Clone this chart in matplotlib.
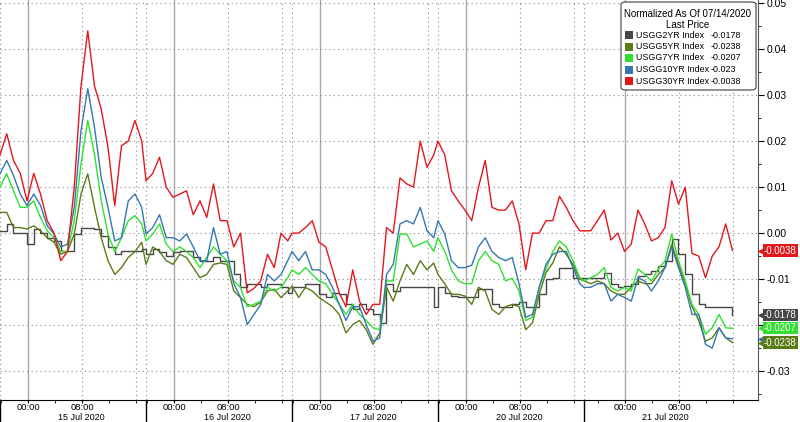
import numpy as np
import matplotlib.pyplot as plt
import matplotlib.transforms as mtransforms
from matplotlib.patches import FancyBboxPatch, Rectangle
from matplotlib.ticker import FixedLocator, MultipleLocator, FuncFormatter

plt.rcParams['font.family'] = ['Liberation Sans', 'DejaVu Sans']

# sessions on the x axis (gaps between sessions are removed)
session_labels = ['15 Jul 2020', '16 Jul 2020', '17 Jul 2020', '20 Jul 2020', '21 Jul 2020']
session_points = [22, 22, 22, 22, 23]          # hourly readings per session
hours_before_midnight = [4.15, 4.15, 4.15, 4.15, 6.07]
SESSION_LEN = 21.63

# yield change, normalized as of 07/14/2020 (in thousandths)
usgg2yr = [0.5, 2, 0, 0, -2.4, 0.9, 0, -1, -1.7, -4, -4, -0.2, 1.2, 1.2, 0.9, -0.6, -3, -4.6, -4, -4, -4, -3.5,
           -4.6, -3.5, -4.2, -5, -4.2, -4, -4, -5.3, -6, -6, -5.3, -6, -6, -9, -11.8, -11, -11, -11.8, -11, -11, -11.8, -13,
           -11.8, -11.8, -11, -11, -13.3, -14, -13, -13.3, -15.5, -16.6, -15.5, -16.6, -17.7, -19.5, -11, -12.6, -11.8, -11.8, -11.8, -11.8, -11.8, -16,
           -11.8, -13, -13.7, -14, -14, -14, -12.2, -12.2, -15.5, -16, -16, -15.5, -15, -16, -16, -13.3, -10, -9.7, -7.5, -7.5, -9.7, -9.7,
           -9.7, -9.7, -9.7, -8.6, -11, -11.8, -11.5, -11, -9.3, -9, -8.3, -7.2, -6, -1.3, -4.6, -9, -13.3, -15.5, -16, -16, -16, -16, -17.8]
usgg5yr = [4.5, 4.5, 1.2, 1.2, 0.9, 1.6, 0.5, -1, -2, -4.6, -4, -0.2, 8.5, 12.9, 5.6, -1, -6, -9, -7.5, -5.3, -4, -2,
           -6.8, -3, -4, -6, -6.8, -4.6, -5.3, -7.5, -9.7, -9, -6.8, -6.5, -6.8, -12.6, -14, -15.5, -16, -15, -12.6, -12.2, -14, -12.6,
           -11.5, -14, -11.8, -12.6, -14, -15, -16, -17.7, -21.7, -19.9, -19, -21, -24.2, -21.7, -11.8, -14.8, -10.4, -6.8, -9, -6, -8, -6.5,
           -9, -11, -13.3, -13.3, -13.7, -15.5, -11.8, -12.6, -16.6, -17.7, -16, -15.5, -16, -21, -19.5, -13.3, -8.6, -6.5, -3, -4.6, -6.8, -10,
           -10.4, -11, -10.4, -11, -12.6, -13.3, -13.3, -11.8, -10.4, -11, -11, -9, -7.5, -2.4, -6.8, -11, -16, -19, -23.5, -22.8, -20.6, -22.8, -23.8]
usgg7yr = [10, 12.9, 9.2, 5.6, 5.6, 7, 3.4, 0.5, -1, -4, -4, 2.7, 15, 24.5, 17.2, 7, -0.2, -4, -1, 2.7, 3.8, 2,
           -1.7, -0.2, 2, -2.4, -4, -3, -4, -5.3, -7.5, -5.3, -3, -4.6, -6, -10.4, -11.8, -16, -15.5, -14.8, -11.8, -12.6, -11.8, -9.7,
           -8, -9, -7.5, -9, -10.4, -11, -13.3, -15.5, -17.7, -15.5, -17.7, -19, -20.6, -21, -10.4, -10.4, -0.2, -0.2, -3, -2.4, -1.7, -4,
           -1, -4, -8, -10.4, -11, -11, -6, -4, -6, -6.8, -10.4, -9.8, -12.6, -19, -18.3, -11.8, -7.8, -4, -1.7, -3, -6, -9.7,
           -10.4, -9.7, -9, -7.5, -11.8, -12.6, -11.8, -12.6, -7.8, -9, -10.4, -7.8, -6, -0.2, -6, -10.4, -15.5, -17.7, -22, -20.6, -17.7, -20.6, -20.7]
usgg10yr = [12.9, 15.8, 12.5, 8.5, 6, 8.5, 6, 1.6, -0.2, -3, -2.4, 5.6, 22.3, 31.4, 23, 12.1, 5.6, -1.7, -1, 7, 8.5, 5.6,
            -0.2, 1.2, 4, -1, -1, -1.7, -0.2, -3, -6, -6, 1.2, -4.6, -4, -11, -14, -19.9, -17.7, -15.5, -9, -10.4, -9, -6,
            -4, -6, -4, -8, -8, -9, -11.8, -15.5, -19, -16, -16, -19.9, -23.5, -22.8, -9, -6.8, 2, 2.7, 2, 5.6, 0.5, -1,
            2.7, -0.2, -6, -7.5, -7.5, -7, -3, -1, -4, -5.3, -6, -5.3, -11, -18.3, -17.7, -11.8, -6.8, -4.6, -4, -4, -7.5, -11,
            -11.8, -11.8, -11, -11, -14.8, -13.3, -14, -14.8, -9.7, -10.4, -12.6, -10.4, -7.5, -3, -7.5, -11.8, -17.7, -17.7, -24.2, -25, -20.6, -22.8, -23]
usgg30yr = [17, 21.6, 15.8, 13, 7, 13, 8.5, 2.7, 0, -6, -4, 10, 32, 44, 32, 27, 18.7, 6, 19, 20, 24.5, 20,
            11.4, 13, 16.5, 10, 7.8, 8.5, 9.2, 4, 7, 3.4, 10.7, 2.7, 2.7, -3, 0, -13, -12, -10.4, -4.6, -7.5, 0, -1.7,
            0, 0, 1.2, 2.7, -2, -3, -8, -13, -16, -8, -14.8, -17.7, -15.5, -15.5, 1.2, 0, 12, 10.7, 10, 20, 14.3, 17,
            20, 17, 9.2, 7, 5, 2.7, 10, 15.8, 5.6, 5, 5, 7, 2, -8, 0, 0, 2.7, 2.7, 8, 5.6, 2.7, 0.5,
            0.5, 0.5, 2.7, 5, -1.5, 0, -4, -2.4, 5, 2, -1.7, -1, 1.2, 11.4, 6.3, 10, -4.4, -5, -9.7, -5, -3, 2, -3.8]

names = ['USGG2YR Index', 'USGG5YR Index', 'USGG7YR Index', 'USGG10YR Index', 'USGG30YR Index']
last_labels = ['-0.0178', '-0.0238', '-0.0207', '-0.023', '-0.0038']
colors = ['#474747', '#5b7b16', '#2fe02f', '#3677b0', '#e3171c']
series = [usgg2yr, usgg5yr, usgg7yr, usgg10yr, usgg30yr]

# x positions: hours since session open, sessions laid side by side
x = np.concatenate([k * SESSION_LEN + np.arange(n) for k, n in enumerate(session_points)])

fig = plt.figure(figsize=(8, 4.22), dpi=100)
ax = fig.add_axes([0, 22 / 422, 758 / 800, 400 / 422])

for vals, c, nm in zip(series, colors, names):
    y = np.array(vals) / 1000
    if nm.startswith('USGG2YR'):
        ax.plot(x, y, color=c, lw=1.0, drawstyle='steps-post', zorder=4)
    else:
        ax.plot(x, y, color=c, lw=1.0, zorder=4)

ax.set_xlim(0, 112.3)
ax.set_ylim(-0.0363, 0.0507)

dotted = (0, (1, 3))
major_x, minor_x = [], []
for k in range(len(session_labels)):
    start = k * SESSION_LEN
    midnight = start + hours_before_midnight[k]
    ax.axvline(start, color='#8a8a8a', lw=0.8, ls=dotted, zorder=1)
    ax.axvline(midnight, color='#a8a8a8', lw=1.0, zorder=1)
    for h in (8, 16):
        ax.axvline(midnight + h, color='#8a8a8a', lw=0.8, ls=dotted, zorder=1)
    major_x += [midnight, midnight + 8]
    minor_x += [midnight - 4, midnight + 4, midnight + 12, midnight + 16]
    # session divider below the axis
    ax.plot([start, start], [0, -0.06], color='black', lw=1.0,
            transform=ax.get_xaxis_transform(), clip_on=False)
    ax.text(start + SESSION_LEN / 2 + 1.2, -22 / 400, session_labels[k], ha='center', va='bottom',
            fontsize=6.5, transform=ax.get_xaxis_transform())

ax.xaxis.set_major_locator(FixedLocator(major_x))
ax.xaxis.set_minor_locator(FixedLocator([v for v in minor_x if 0 < v < 112.3]))
ax.set_xticklabels(['00:00', '08:00'] * len(session_labels))
ax.tick_params(axis='x', which='major', length=2.5, pad=0, labelsize=6.8, color='black')
ax.tick_params(axis='x', which='minor', length=2.5, color='black')


def ytick_fmt(v, pos):
    # the -0.02 label sits behind the price tags
    if abs(v + 0.02) < 1e-9:
        return ''
    return f'{v:.2f}'


ax.yaxis.tick_right()
ax.yaxis.set_major_locator(MultipleLocator(0.01))
ax.yaxis.set_minor_locator(MultipleLocator(0.005))
ax.yaxis.set_major_formatter(FuncFormatter(ytick_fmt))
ax.tick_params(axis='y', which='major', length=4, pad=2, labelsize=7.5, direction='out')
ax.tick_params(axis='y', which='minor', length=2, direction='out')
ax.grid(axis='y', color='#8a8a8a', lw=0.8, ls=dotted, zorder=1)

for side in ('left', 'top'):
    ax.spines[side].set_visible(False)
ax.spines['right'].set_color('#555555')
ax.spines['bottom'].set_color('black')

# price tags on the right axis (the 10YR tag sits under the 5YR one)
trans = mtransforms.blended_transform_factory(ax.transAxes, ax.transData)
tag_order = [4, 0, 2, 3, 1]
for i in tag_order:
    v = float(last_labels[i])
    ax.plot([1.004], [v], marker='<', ms=6, color=colors[i], mec='none',
            transform=trans, clip_on=False, zorder=10)
    if names[i].startswith('USGG10YR'):
        continue
    ax.text(1.0075, v, last_labels[i], ha='left', va='center', fontsize=7, color='white',
            transform=trans, clip_on=False, zorder=11,
            bbox=dict(boxstyle='square,pad=0.12', fc=colors[i], ec='none'))

# legend box
def fx(px):
    return px / 800

def fy(py):
    return 1 - py / 422

box = FancyBboxPatch((fx(621), fy(90)), fx(135), 88 / 422,
                     boxstyle='round,pad=0,rounding_size=0.006', fc='white', ec='#555555',
                     lw=0.9, transform=fig.transFigure, zorder=20)
fig.patches.append(box)
fig.text(fx(688), fy(14), 'Normalized As Of 07/14/2020', ha='center', va='center', fontsize=7, zorder=21)
fig.text(fx(688), fy(25), 'Last Price', ha='center', va='center', fontsize=7, zorder=21)
rows = [35, 46.5, 58, 70, 81]
for i, yy in enumerate(rows):
    fig.patches.append(Rectangle((fx(625), fy(yy + 4)), fx(8), 8 / 422, fc=colors[i], ec='none',
                                 transform=fig.transFigure, zorder=21))
    fig.text(fx(636), fy(yy), names[i], ha='left', va='center', fontsize=6.4, zorder=21)
    fig.text(fx(711), fy(yy), last_labels[i], ha='left', va='center', fontsize=6.4, zorder=21)

fig.savefig('out.png', dpi=100)
